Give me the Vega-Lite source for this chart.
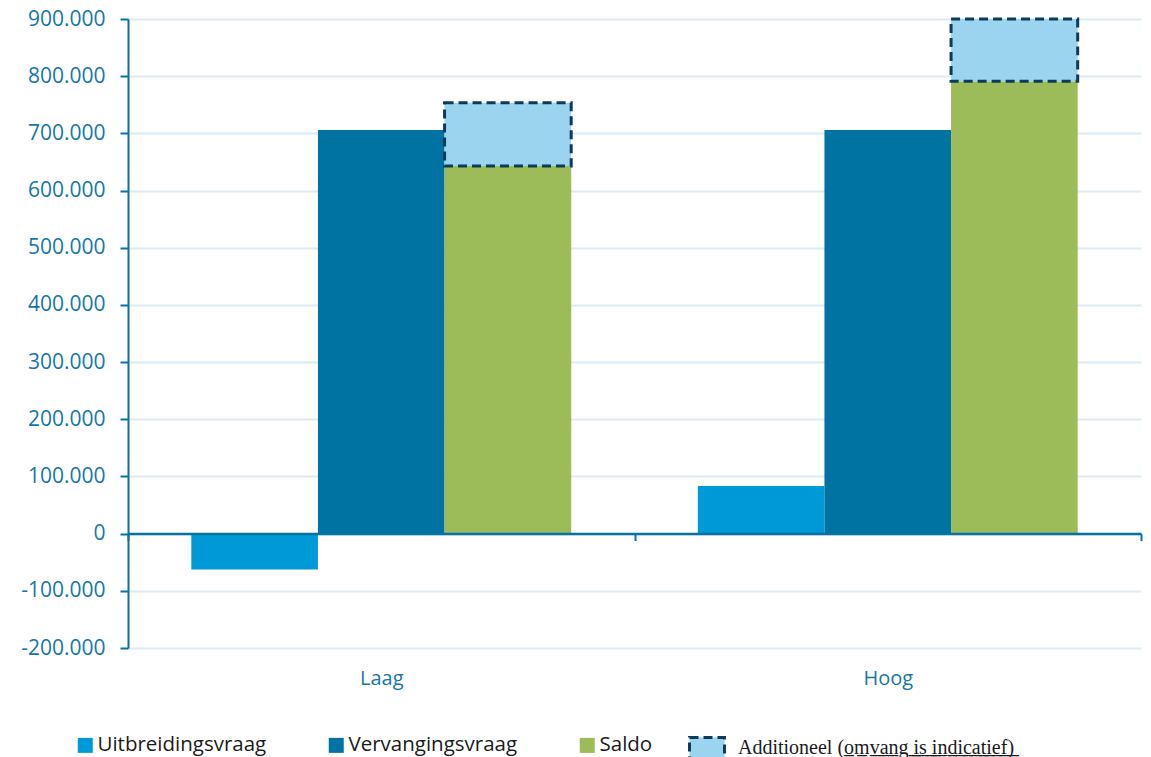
{
  "$schema": "https://vega.github.io/schema/vega-lite/v6.json",
  "autosize": "none",
  "width": 1013,
  "height": 629,
  "padding": {"left": 128, "top": 19, "right": 10, "bottom": 109},
  "background": "white",
  "config": {
    "view": {"stroke": null},
    "font": "Open Sans",
    "locale": {"number": {"decimal": ",", "thousands": ".", "grouping": [3], "currency": ["€", ""], "minus": "-"}}
  },
  "layer": [
    {
      "data": {"values": [
        {"cat": "Laag", "series": "Uitbreidingsvraag", "value": -62500},
        {"cat": "Laag", "series": "Vervangingsvraag", "value": 706000},
        {"cat": "Laag", "series": "Saldo", "value": 643000},
        {"cat": "Hoog", "series": "Uitbreidingsvraag", "value": 83500},
        {"cat": "Hoog", "series": "Vervangingsvraag", "value": 706000},
        {"cat": "Hoog", "series": "Saldo", "value": 791000}
      ]},
      "mark": {"type": "bar"},
      "encoding": {
        "x": {
          "field": "cat", "type": "nominal", "sort": ["Laag", "Hoog"],
          "scale": {"paddingInner": 0, "paddingOuter": 0},
          "axis": {
            "title": null, "orient": "bottom", "offset": -114.4, "zindex": 1,
            "domain": true, "domainColor": "#0a72a2", "domainWidth": 2.5,
            "ticks": true, "tickBand": "extent", "tickSize": 7, "tickWidth": 2, "tickColor": "#0a72a2",
            "labelAngle": 0, "labelPadding": 128, "labelFontSize": 20, "labelColor": "#1577a8",
            "labelFont": "Open Sans", "labelBaseline": "top", "grid": false
          }
        },
        "xOffset": {
          "field": "series", "type": "nominal",
          "scale": {"domain": ["Uitbreidingsvraag", "Vervangingsvraag", "Saldo"], "paddingInner": 0, "paddingOuter": 0.5}
        },
        "y": {
          "field": "value", "type": "quantitative",
          "scale": {"domain": [-200000, 900000], "nice": false, "zero": false},
          "axis": {
            "title": null, "format": ",d",
            "values": [-200000, -100000, 0, 100000, 200000, 300000, 400000, 500000, 600000, 700000, 800000, 900000],
            "domainColor": "#0a72a2", "domainWidth": 2,
            "tickColor": "#0a72a2", "tickWidth": 2, "tickSize": 8,
            "labelFontSize": 21, "labelColor": "#1577a8", "labelPadding": 15, "labelFont": "Open Sans",
            "grid": true, "gridColor": "#d8ebf6", "gridWidth": 2
          }
        },
        "color": {
          "field": "series", "type": "nominal",
          "scale": {"domain": ["Uitbreidingsvraag", "Vervangingsvraag", "Saldo"], "range": ["#0099d8", "#0073a3", "#9cbb59"]},
          "legend": {
            "title": null, "orient": "none", "legendX": -53, "legendY": 716,
            "direction": "horizontal", "columns": 3, "padding": 0,
            "symbolType": "square", "symbolSize": 225, "symbolStrokeWidth": 0, "symbolOpacity": 1,
            "labelFont": "Open Sans", "labelFontSize": 20.5, "labelColor": "#1a1a1a", "labelOffset": 2,
            "columnPadding": 59, "labelLimit": 300
          }
        }
      }
    },
    {
      "data": {"values": [
        {"cat": "Laag", "series": "Saldo", "start": 643000, "end": 753500, "name": "Additioneel (o̲m̲v̲a̲n̲g̲ ̲i̲s̲ ̲i̲n̲d̲i̲c̲a̲t̲i̲e̲f̲)̲"},
        {"cat": "Hoog", "series": "Saldo", "start": 791000, "end": 900000, "name": "Additioneel (o̲m̲v̲a̲n̲g̲ ̲i̲s̲ ̲i̲n̲d̲i̲c̲a̲t̲i̲e̲f̲)̲"}
      ]},
      "mark": {"type": "bar", "fill": "#9ad4ee", "strokeWidth": 3, "strokeDash": [9, 5]},
      "encoding": {
        "x": {"field": "cat", "type": "nominal", "sort": ["Laag", "Hoog"]},
        "xOffset": {"field": "series", "type": "nominal"},
        "y": {"field": "start", "type": "quantitative"},
        "y2": {"field": "end"},
        "stroke": {
          "field": "name", "type": "nominal",
          "scale": {"range": ["#0d3b5a"]},
          "legend": {
            "title": null, "orient": "none", "legendX": 567, "legendY": 717, "padding": 0,
            "symbolType": "M-1.667,-1H1.667V1H-1.667Z", "symbolSize": 441,
            "symbolFillColor": "#9ad4ee", "symbolStrokeWidth": 3, "symbolOpacity": 1, "symbolDash": [9, 5],
            "labelFont": "Liberation Serif", "labelFontSize": 20, "labelColor": "#1a1a1a", "labelOffset": 19, "labelLimit": 420,
            "encode": {"symbols": {"update": {
              "strokeWidth": {"value": 3}, "strokeDash": {"value": [9, 5]}, "fill": {"value": "#9ad4ee"}, "opacity": {"value": 1}
            }}}
          }
        }
      }
    }
  ]
}
